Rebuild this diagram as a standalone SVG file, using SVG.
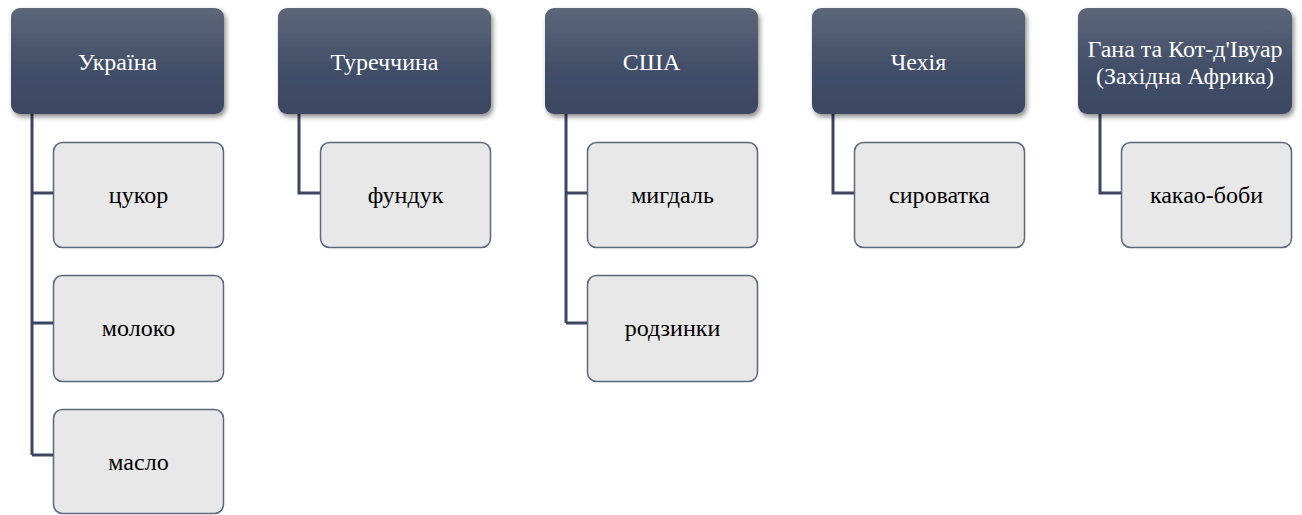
<svg xmlns="http://www.w3.org/2000/svg" width="1302" height="515" viewBox="0 0 1302 515">
<defs>
<linearGradient id="hg" x1="0" y1="0" x2="0" y2="1">
<stop offset="0" stop-color="#5c6779"/>
<stop offset="0.55" stop-color="#434f69"/>
<stop offset="1" stop-color="#3b4862"/>
</linearGradient>
<filter id="sh" x="-10%" y="-10%" width="125%" height="130%">
<feDropShadow dx="2" dy="3" stdDeviation="2.5" flood-color="#000" flood-opacity="0.45"/>
</filter>
</defs>
<style>
.h{fill:url(#hg);filter:url(#sh)}
.c{fill:#e8e8e8;stroke:#5a687e;stroke-width:1.5}
.ht{font-family:"Liberation Serif","Times New Roman",serif;font-size:24px;fill:#ffffff;text-anchor:middle}
.ct{font-family:"Liberation Serif","Times New Roman",serif;font-size:24px;fill:#000000;text-anchor:middle}
.ln{fill:none;stroke:#3b4760;stroke-width:3}
</style>
<g id="connectors">
<path class="ln" d="M32,114 V455 M32,193 H53 M32,323 H53 M32,455 H53"/>
<path class="ln" d="M299,114 V193 H320"/>
<path class="ln" d="M566,114 V323 M566,193 H587 M566,323 H587"/>
<path class="ln" d="M833,114 V193 H854"/>
<path class="ln" d="M1100,114 V193 H1121"/>
</g>
<g id="ukraine"><rect class="h" x="11" y="8" width="213" height="106" rx="9"/><text class="ht" x="117.5" y="70">Україна</text></g>
<g id="turkey"><rect class="h" x="278" y="8" width="213" height="106" rx="9"/><text class="ht" x="384.5" y="70">Туреччина</text></g>
<g id="usa"><rect class="h" x="545" y="8" width="213" height="106" rx="9"/><text class="ht" x="651.5" y="70">США</text></g>
<g id="czech"><rect class="h" x="812" y="8" width="213" height="106" rx="9"/><text class="ht" x="918.5" y="70">Чехія</text></g>
<g id="ghana"><rect class="h" x="1078" y="8" width="214" height="106" rx="9"/><text class="ht" x="1185" y="57">Гана та Кот-д'Івуар</text><text class="ht" x="1185" y="84">(Західна Африка)</text></g>
<g id="sugar"><rect class="c" x="53.5" y="142.5" width="170" height="105" rx="9"/><text class="ct" x="138.5" y="203">цукор</text></g>
<g id="milk"><rect class="c" x="53.5" y="275.5" width="170" height="106" rx="9"/><text class="ct" x="138.5" y="336">молоко</text></g>
<g id="butter"><rect class="c" x="53.5" y="409.5" width="170" height="104" rx="9"/><text class="ct" x="138.5" y="470">масло</text></g>
<g id="hazelnut"><rect class="c" x="320.5" y="142.5" width="170" height="105" rx="9"/><text class="ct" x="405.5" y="203">фундук</text></g>
<g id="almond"><rect class="c" x="587.5" y="142.5" width="170" height="105" rx="9"/><text class="ct" x="672.5" y="203">мигдаль</text></g>
<g id="raisins"><rect class="c" x="587.5" y="275.5" width="170" height="106" rx="9"/><text class="ct" x="672.5" y="336">родзинки</text></g>
<g id="whey"><rect class="c" x="854.5" y="142.5" width="170" height="105" rx="9"/><text class="ct" x="939.5" y="203">сироватка</text></g>
<g id="cocoa"><rect class="c" x="1121.5" y="142.5" width="170" height="105" rx="9"/><text class="ct" x="1206.5" y="203">какао-боби</text></g>
</svg>
